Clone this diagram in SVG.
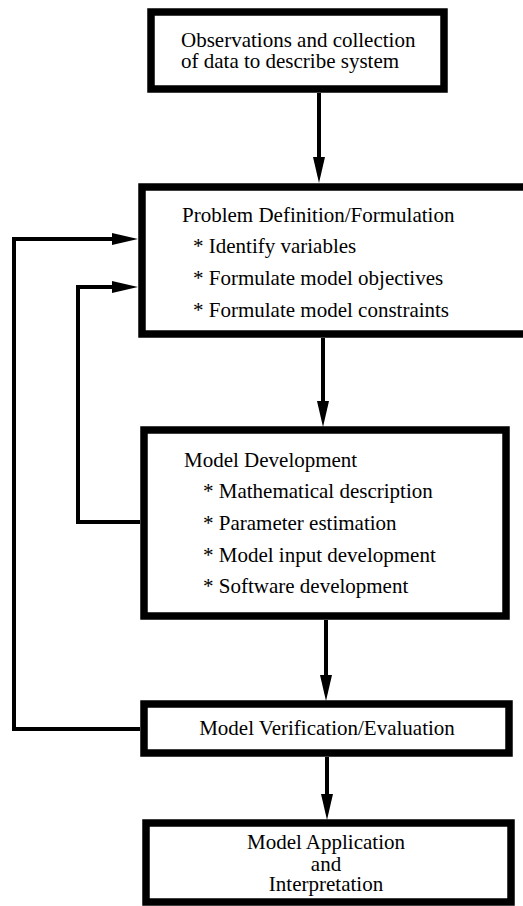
<svg xmlns="http://www.w3.org/2000/svg" width="523" height="906" viewBox="0 0 523 906">
<style>
.box{fill:#fff;stroke:#000;stroke-width:7.5}
.t{font-family:"Liberation Serif","Times New Roman",serif;font-size:21px;fill:#000}
.c{text-anchor:middle}
.ln{fill:none;stroke:#000;stroke-width:4}
</style>
<defs>
<marker id="ah" markerUnits="userSpaceOnUse" markerWidth="26" markerHeight="14" viewBox="0 0 26 14" refX="16" refY="7" orient="auto">
<path d="M0,1 L26,7 L0,13 z" fill="#000"/>
</marker>
</defs>
<rect width="523" height="906" fill="#fff"/>
<g id="connectors">
<path class="ln" d="M319,93 V173" marker-end="url(#ah)"/>
<path class="ln" d="M323,338 V417" marker-end="url(#ah)"/>
<path class="ln" d="M326,620 V691" marker-end="url(#ah)"/>
<path class="ln" d="M327,757 V810" marker-end="url(#ah)"/>
<path class="ln" d="M140,729 H14 V239 H128" marker-end="url(#ah)"/>
<path class="ln" d="M140,522 H78 V287 H128" marker-end="url(#ah)"/>
</g>
<g id="n1">
<rect class="box" x="151" y="12" width="293" height="77"/>
<text class="t" x="181" y="47">Observations and collection</text>
<text class="t" x="181" y="68">of data to describe system</text>
</g>
<g id="n2">
<rect class="box" x="142" y="187" width="400" height="147"/>
<text class="t" x="182" y="222">Problem Definition/Formulation</text>
<text class="t" x="193" y="253">* Identify variables</text>
<text class="t" x="193" y="285">* Formulate model objectives</text>
<text class="t" x="193" y="317">* Formulate model constraints</text>
</g>
<g id="n3">
<rect class="box" x="144" y="430" width="362" height="186"/>
<text class="t" x="184" y="467">Model Development</text>
<text class="t" x="203" y="498">* Mathematical description</text>
<text class="t" x="203" y="530">* Parameter estimation</text>
<text class="t" x="203" y="562">* Model input development</text>
<text class="t" x="203" y="593">* Software development</text>
</g>
<g id="n4">
<rect class="box" x="144" y="704" width="365" height="49"/>
<text class="t c" x="327" y="735">Model Verification/Evaluation</text>
</g>
<g id="n5">
<rect class="box" x="146" y="823" width="365" height="79"/>
<text class="t c" x="326" y="849">Model Application</text>
<text class="t c" x="326" y="871">and</text>
<text class="t c" x="326" y="891">Interpretation</text>
</g>
</svg>
